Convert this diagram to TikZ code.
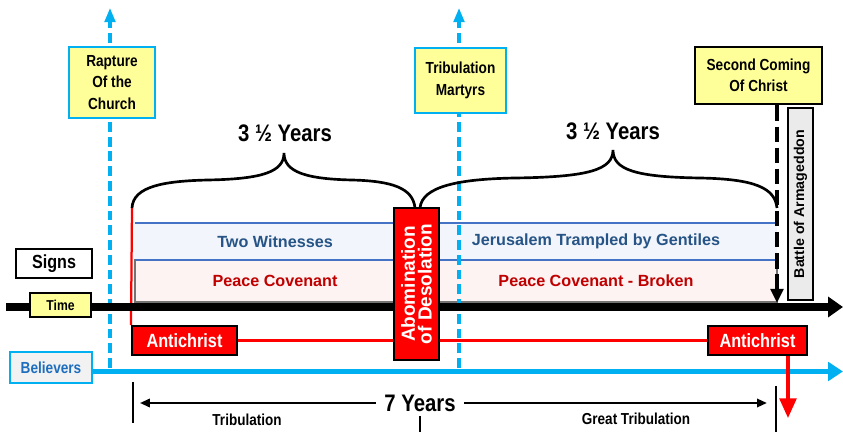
\documentclass[tikz,border=0pt]{standalone}
\usepackage{fontspec}
\setmainfont{Liberation Sans}
\newfontfamily\narrowsf{Liberation Sans}[FakeStretch=0.85]
\usepackage{tikz}
\usetikzlibrary{arrows.meta,positioning}

\definecolor{skyblue}{RGB}{0,176,240}
\definecolor{paleyellow}{RGB}{255,255,153}
\definecolor{bandblue}{RGB}{68,114,196}
\definecolor{textblue}{RGB}{38,84,134}
\definecolor{darkred}{RGB}{192,0,0}
\definecolor{believeblue}{RGB}{30,110,190}
\definecolor{bandfill}{RGB}{242,245,251}
\definecolor{peacefill}{RGB}{253,243,243}

\begin{document}
\begin{tikzpicture}[x=0.025cm,y=-0.025cm,
	eventbox/.style={draw=skyblue,line width=2pt,fill=paleyellow,align=center,inner sep=0pt,font={\narrowsf\bfseries\fontsize{11.4}{15.2}\selectfont}},
	redbox/.style={draw=black,line width=1.4pt,fill=red,text=white,minimum height=0.725cm,inner sep=0pt,font={\narrowsf\bfseries\fontsize{13.6}{16}\selectfont}},
	band/.style={inner sep=0pt,font={\bfseries\fontsize{11.5}{14}\selectfont}},
	bandline/.style={draw=bandblue,line width=1.4pt},
	skydash/.style={draw=skyblue,line width=2.3pt,dash pattern=on 7pt off 3.5pt},
	yearsfont/.style={font={\narrowsf\bfseries\fontsize{17}{20}\selectfont}},
	smalltxt/.style={font={\narrowsf\bfseries\fontsize{11.3}{14}\selectfont}},
	bracepath/.style={line width=1.9pt}]
	\fill[white] (0,0) rectangle (843,432);
	\useasboundingbox (0,0) rectangle (843,432);
	%% the end points
	\coordinate (time start) at (6,307);
	\coordinate (time end) at (843,307);
	\coordinate (bel end) at (843,371.5);
	\coordinate (rapt top) at (110,8);
	\coordinate (rapt foot) at (110,368);
	\coordinate (mart top) at (459,8);
	\coordinate (mart foot) at (459,368);
	\coordinate (brace one) at (132,208);
	\coordinate (sc foot) at (777,303);
	\coordinate (doom) at (788,418);
	\coordinate (trib start) at (133,403);
	\coordinate (trib end) at (776,403);
	%% the bands
	\node[band,fill=bandfill,text=textblue,minimum width=7cm,minimum height=0.925cm] (wit) at (275,241.5) {Two Witnesses};
	\node[band,fill=bandfill,text=textblue,minimum width=9.05cm,minimum height=0.925cm] (tramp) at (596,241.5) {Jerusalem Trampled by Gentiles};
	\node[band,fill=peacefill,draw=black!55,line width=0.8pt,text=darkred,minimum width=7cm,minimum height=1.05cm] (peace) at (275,281) {Peace Covenant};
	\node[band,fill=peacefill,draw=black!55,line width=0.8pt,text=darkred,minimum width=9.05cm,minimum height=1.05cm] (broken) at (596,281) {Peace Covenant - Broken};
	\draw[bandline] (wit.north west) -- (tramp.north east);
	\draw[bandline] (wit.south west) -- (tramp.south east);
	% the dashed event lines
	\draw[skydash,-{Triangle[length=10pt,width=7.5pt]}] (rapt foot) -- (rapt top);
	\draw[skydash,-{Triangle[length=10pt,width=7.5pt]}] (mart foot) -- (mart top);
	%% the antichrist
	\node[redbox,minimum width=2.625cm] (antiL) at (184.5,340.5) {Antichrist};
	\node[redbox,minimum width=2.475cm] (antiR) at (757.5,340.5) {Antichrist};
	\draw[red,line width=1.6pt] (brace one) -- (antiL.north west);
	\draw[red,line width=1.6pt] (antiL.east) -- (antiR.west);
	% the two time lines
	\draw[line width=5pt,-{Triangle[length=10.5pt,width=14pt]}] (time start) -- (time end);
	\node[draw=skyblue,line width=2pt,fill=black!5,text=believeblue,minimum width=2.05cm,minimum height=0.775cm,inner sep=0pt,font={\narrowsf\bfseries\fontsize{11.4}{14}\selectfont}] (believers) at (51,367.5) {Believers};
	\draw[skyblue,line width=4pt,-{Triangle[length=10.5pt,width=13pt]}] (believers.east |- bel end) -- (bel end);
	\draw[red,line width=2.2pt,-{Triangle[length=14pt,width=12pt]}] (antiR.south -| doom) -- (doom);
	\node[draw=black,line width=1.4pt,fill=white,minimum width=1.9cm,minimum height=0.725cm,inner sep=0pt,font={\narrowsf\bfseries\fontsize{13.5}{16}\selectfont}] (signs) at (54,263.5) {Signs};
	\node[draw=black,line width=1.1pt,fill=paleyellow,minimum width=1.525cm,minimum height=0.6cm,inner sep=0pt,font={\narrowsf\bfseries\fontsize{10.2}{12}\selectfont}] (time) at (60.5,305) {Time};
	%% the braces
	\draw[bracepath] (brace one) .. controls (133,186) and (165,181) .. (208,180) .. controls (262,179) and (284,172) .. (284,153) .. controls (284,172) and (306,179) .. (352,180) .. controls (392,181) and (413,188) .. (415,208);
	\draw[bracepath] (420,208) .. controls (422,186) and (460,179) .. (515,178) .. controls (588,177) and (613,170) .. (613,150) .. controls (613,170) and (636,177) .. (700,178) .. controls (755,179) and (775,188) .. (777,208);
	\node[yearsfont] (half one) at (285,133) {3 ½ Years};
	\node[yearsfont] (half two) at (613,131) {3 ½ Years};
	%% the event boxes
	\node[eventbox,minimum width=2.15cm,minimum height=1.775cm] (rapture) at (112,82.5) {Rapture\\Of the\\Church};
	\node[eventbox,minimum width=2.275cm,minimum height=1.625cm] (martyrs) at (460.5,80.5) {Tribulation\\Martyrs};
	\node[eventbox,draw=black,minimum width=3.175cm,minimum height=1.425cm] (second) at (758.5,75.5) {Second Coming\\Of Christ};
	\draw[line width=2.8pt,dash pattern=on 11pt off 4pt,-{Triangle[length=10pt,width=9pt]}] (second.south -| sc foot) -- (sc foot);
	\node[draw=black,line width=1.2pt,fill=black!8,rotate=90,minimum width=4.8cm,minimum height=0.625cm,inner sep=0pt,font={\bfseries\fontsize{10.1}{12}\selectfont}] (battle) at (800.5,204) {Battle of Armageddon};
	\node[draw=black,line width=1.4pt,fill=red,text=white,rotate=90,minimum width=3.8cm,minimum height=1.125cm,inner sep=0pt,align=center,font={\bfseries\fontsize{13.5}{12}\selectfont}] (abom) at (416.5,284) {Abomination\\of Desolation};
	%% the seven years
	\node[yearsfont,inner xsep=6pt] (seven) at (420,403) {7 Years};
	\draw[line width=2pt] (trib start) ++(0,-21) -- ++(0,41);
	\draw[line width=2pt] (trib end) ++(0,-17) -- ++(0,46);
	\draw[line width=2pt] (seven.south) -- (seven.south |- 0,432);
	\draw[line width=1.4pt,shorten >=5pt,-{Triangle[length=7pt,width=6pt]}] (seven.west) -- (trib start);
	\draw[line width=1.4pt,shorten >=6.5pt,-{Triangle[length=7pt,width=6pt]}] (seven.east) -- (trib end);
	\node[smalltxt] (trib) at (247,420) {Tribulation};
	\node[smalltxt] (great) at (636,419) {Great Tribulation};
\end{tikzpicture}
\end{document}
